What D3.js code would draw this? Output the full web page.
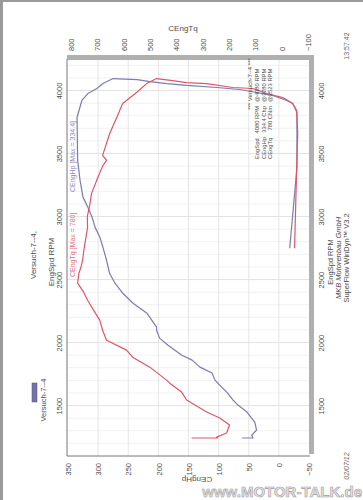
<!DOCTYPE html>
<html><head><meta charset="utf-8">
<script src="https://cdn.jsdelivr.net/npm/d3@7"></script>
<style>body{margin:0;background:#fff}svg{display:block}text{font-family:"Liberation Sans",Arial,sans-serif}</style>
</head><body>
<svg id="c" width="363" height="500"></svg>
<script>
const rpmTicks = [1500, 2000, 2500, 3000, 3500, 4000];
const hpTicks = [350, 300, 250, 200, 150, 100, 50, 0, -50];
const tqTicks = [800, 700, 600, 500, 400, 300, 200, 100, 0, -100];

const tqRpm = [1243,1243,1250,1282,1346,1401,1449,1544,1607,1678,1702,1805,1884,1940,2019,2098,2178,2250,2336,2400,2471,2550,2600,2653,2750,2850,2914,3000,3100,3184,3300,3400,3445,3485,3659,3802,3897,3984,4055,4095,4079,4063,4055,4024,4016,3976,3944,3897,3841,3659,3390,2748];
const tqVal = [342,243,247,209,198,235,285,361,380,425,437,501,566,589,665,680,691,712,737,752,775,770,762,756,750,742,737,738,728,722,700,680,665,680,653,623,604,551,513,475,414,361,285,186,110,57,-4,-42,-57,-61,-57,-49];

const hpRpm = [1243,1243,1266,1306,1369,1449,1504,1544,1599,1647,1702,1758,1805,1861,1900,1979,2035,2098,2122,2233,2312,2391,2471,2550,2653,2756,2835,2914,2994,3073,3152,3287,3445,3786,3921,3976,4016,4055,4095,4087,4071,4055,4040,4024,4008,3984,3960,3921,3897,3826,3390,2748];
const hpVal = [61,43,45,37,40,53,68,76,85,95,106,111,131,144,161,184,198,203,203,219,242,259,272,281,286,292,297,305,310,317,325,330,334,335,327,317,302,292,275,235,214,186,153,103,65,37,10,-13,-23,-30,-30,-18];

const infoNames = ["EngSpd", "CEngHp", "CEngTq"];
const infoValues = ["4080 RPM", "334.4 Chp", "780 CNm"];
const infoAt = ["@4080 RPM", "@3780 RPM", "@2523 RPM"];

const svg = d3.select("#c");
const L = 67, R = 310, T = 59, B = 456;
const y = d3.scaleLinear().domain([1100, 4250]).range([B, T]);
const xHp = d3.scaleLinear().domain([-50, 350]).range([309, 68]);
const xTq = d3.scaleLinear().domain([-100, 800]).range([308, 71]);

// page edges
svg.append("rect").attr("x",0).attr("y",0).attr("width",3).attr("height",500).attr("fill","#9a9a9a");
svg.append("rect").attr("x",0).attr("y",0).attr("width",363).attr("height",2).attr("fill","#9a9a9a");

// grid
const g = svg.append("g");
g.selectAll("line.h").data(d3.range(1200, 4250, 100)).join("line")
  .attr("x1", L).attr("x2", R).attr("y1", d => y(d)).attr("y2", d => y(d))
  .attr("stroke", d => d % 500 === 0 ? "#dcdcdc" : "#eeeeee").attr("stroke-width", 0.8);
g.selectAll("line.v").data(hpTicks.filter(d => d < 350 && d > -50)).join("line")
  .attr("y1", T).attr("y2", B).attr("x1", d => xHp(d)).attr("x2", d => xHp(d))
  .attr("stroke", "#e0e0e0").attr("stroke-width", 0.8);

// frame
svg.append("rect").attr("x", L).attr("y", T - 4).attr("width", R - L + 4).attr("height", 5).attr("fill", "#b0b0b0");
svg.append("rect").attr("x", R - 1).attr("y", T - 4).attr("width", 5).attr("height", B - T + 2).attr("fill", "#b0b0b0");
svg.append("line").attr("x1", L).attr("x2", L).attr("y1", T).attr("y2", B).attr("stroke", "#777").attr("stroke-width", 1);
svg.append("line").attr("x1", L).attr("x2", R).attr("y1", B).attr("y2", B).attr("stroke", "#777").attr("stroke-width", 1);

const txt = "#4a4a4a";
function styleAxis(sel, anchor, fs) {
  sel.select(".domain").remove();
  sel.selectAll(".tick line").remove();
  sel.selectAll("text").attr("x", 0).attr("y", 0).attr("dy", "0.35em")
    .attr("text-anchor", anchor).attr("transform", "rotate(-90)")
    .attr("fill", txt).style("font-size", fs + "px").style("font-family", '"Liberation Sans",Arial,sans-serif');
}
const fmt = d3.format("d");
// RPM axes (left and right)
svg.append("g").attr("transform", "translate(59,0)").call(d3.axisLeft(y).tickValues(rpmTicks).tickFormat(fmt).tickSize(0)).call(s => styleAxis(s, "middle", 7.5));
svg.append("g").attr("transform", "translate(321,0)").call(d3.axisRight(y).tickValues(rpmTicks).tickFormat(fmt).tickSize(0)).call(s => styleAxis(s, "middle", 7.5));
// Hp axis (bottom)
svg.append("g").attr("transform", "translate(0,463)").call(d3.axisBottom(xHp).tickValues(hpTicks).tickFormat(fmt).tickSize(0)).call(s => styleAxis(s, "end", 7.5));
// Tq axis (top)
svg.append("g").attr("transform", "translate(0,51)").call(d3.axisTop(xTq).tickValues(tqTicks).tickFormat(fmt).tickSize(0)).call(s => styleAxis(s, "start", 7.5));

function rtext(x, yy, s, anchor, fs, fill, extra) {
  const t = svg.append("text").attr("transform", `translate(${x},${yy}) rotate(-90)`)
    .attr("dy", "0.35em").attr("text-anchor", anchor).style("font-size", fs + "px")
    .attr("fill", fill || txt).text(s);
  if (extra) extra(t);
  return t;
}

// curves
const lineTq = d3.line().x((d, i) => xTq(tqVal[i])).y((d, i) => y(tqRpm[i]));
const lineHp = d3.line().x((d, i) => xHp(hpVal[i])).y((d, i) => y(hpRpm[i]));
svg.append("path").attr("d", lineHp(hpRpm)).attr("fill", "none").attr("stroke", "#7c7cae").attr("stroke-width", 1.2).attr("stroke-linejoin", "round");
svg.append("path").attr("d", lineTq(tqRpm)).attr("fill", "none").attr("stroke", "#e25566").attr("stroke-width", 1.2).attr("stroke-linejoin", "round");

// curve labels
rtext(73, 192, "CEngHp [Max = 334.4]", "start", 7, "#8d8db8");
rtext(73, 277, "CEngTq [Max = 780]", "start", 7, "#e2707c");

// info box
rtext(250, 84, "*** Versuch-7--4 ***", "middle", 6);
infoNames.forEach((n, i) => {
  const x = 257 + i * 6.5;
  rtext(x, 159, n, "start", 5.8);
  rtext(x, 106, infoValues[i], "end", 5.8);
  rtext(x, 102, infoAt[i], "start", 5.8);
});

// titles and labels
rtext(33, 255, "Versuch-7--4,", "middle", 8);
rtext(51, 262, "EngSpd RPM", "middle", 8);
rtext(330, 262, "EngSpd RPM", "middle", 7.5);
rtext(338, 258, "MKB Motorenbau GmbH", "middle", 7.5, txt, t => t.style("font-style", "italic"));
rtext(346, 258, "SuperFlow WinDyn\u2122 V3.2", "middle", 7.5);
rtext(347, 466, "02/07/12", "middle", 7, "#666", t => t.style("font-style", "italic"));
rtext(347, 46, "13:57:42", "middle", 7, "#666");

// legend
svg.append("rect").attr("x", 32).attr("y", 383).attr("width", 5).attr("height", 19).attr("fill", "#7272b6").attr("stroke", "#555").attr("stroke-width", 0.5);
rtext(43, 400, "Versuch-7--4", "middle", 7.5);

// axis titles
svg.append("text").attr("x", 183).attr("y", 31).attr("text-anchor", "middle").style("font-size", "8px").attr("fill", txt).text("CEngTq");
svg.append("text").attr("transform", "translate(197,480) rotate(180)").attr("text-anchor", "middle").attr("dy", "0.35em").style("font-size", "8px").attr("fill", txt).text("CEngHp");

// watermark
svg.append("text").attr("x", 362).attr("y", 497).attr("text-anchor", "end").style("font-size", "15px").style("font-weight", "bold")
  .attr("fill", "#e4e4e4").attr("stroke", "#a0a0a0").attr("stroke-width", 0.6).text("www.MOTOR-TALK.de");
</script>
</body></html>
